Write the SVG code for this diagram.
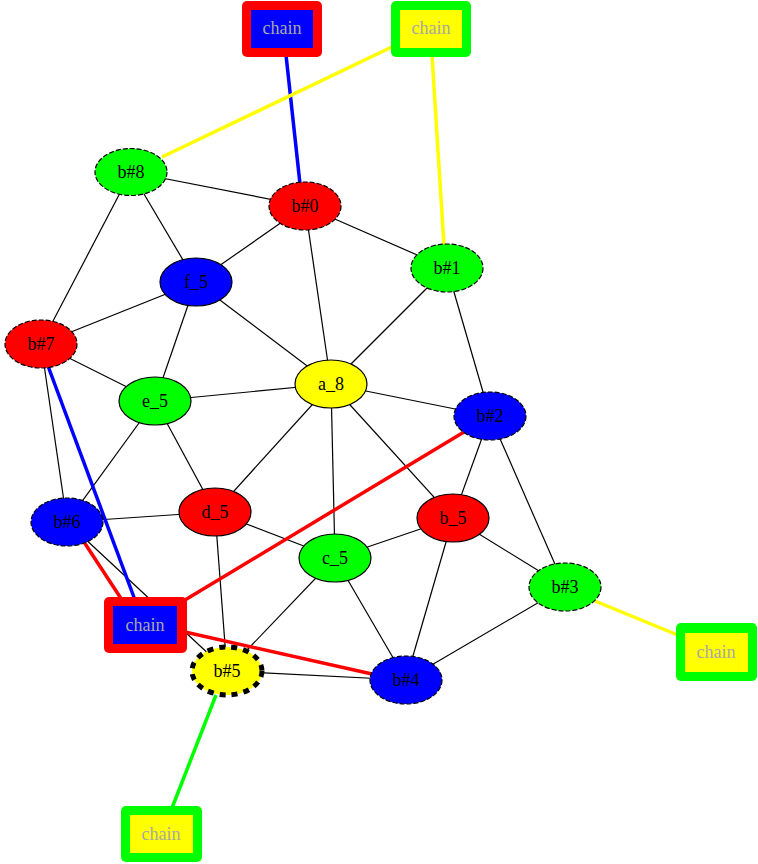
<svg xmlns="http://www.w3.org/2000/svg" width="758" height="864" viewBox="0 0 758 864">
<style>
.e{stroke:#000;stroke-width:1.2;fill:none}
.t{stroke-width:3.5;fill:none}
.n{stroke:#000;stroke-width:1.2}
.d{stroke-dasharray:5,2}
text{font-family:"Liberation Serif","Times New Roman",serif;font-size:18px;text-anchor:middle}
.c{fill:#a8a8a8}
</style>
<rect width="758" height="864" fill="#fff"/>
<g id="edges">
<line class="e" x1="131" y1="172" x2="305" y2="206"/>
<line class="e" x1="131" y1="172" x2="196" y2="282"/>
<line class="e" x1="131" y1="172" x2="41" y2="344"/>
<line class="e" x1="305" y1="206" x2="196" y2="282"/>
<line class="e" x1="305" y1="206" x2="447" y2="268"/>
<line class="e" x1="305" y1="206" x2="331" y2="384"/>
<line class="e" x1="447" y1="268" x2="331" y2="384"/>
<line class="e" x1="447" y1="268" x2="490" y2="416"/>
<line class="e" x1="196" y1="282" x2="41" y2="344"/>
<line class="e" x1="196" y1="282" x2="155" y2="401"/>
<line class="e" x1="196" y1="282" x2="331" y2="384"/>
<line class="e" x1="41" y1="344" x2="155" y2="401"/>
<line class="e" x1="41" y1="344" x2="67" y2="522"/>
<line class="e" x1="155" y1="401" x2="331" y2="384"/>
<line class="e" x1="155" y1="401" x2="215" y2="512"/>
<line class="e" x1="155" y1="401" x2="67" y2="522"/>
<line class="e" x1="331" y1="384" x2="490" y2="416"/>
<line class="e" x1="331" y1="384" x2="215" y2="512"/>
<line class="e" x1="331" y1="384" x2="335" y2="558"/>
<line class="e" x1="331" y1="384" x2="453" y2="518"/>
<line class="e" x1="490" y1="416" x2="453" y2="518"/>
<line class="e" x1="490" y1="416" x2="565" y2="587"/>
<line class="e" x1="67" y1="522" x2="215" y2="512"/>
<line class="e" x1="67" y1="522" x2="227" y2="671"/>
<line class="e" x1="215" y1="512" x2="335" y2="558"/>
<line class="e" x1="215" y1="512" x2="227" y2="671"/>
<line class="e" x1="335" y1="558" x2="453" y2="518"/>
<line class="e" x1="335" y1="558" x2="227" y2="671"/>
<line class="e" x1="335" y1="558" x2="406" y2="680"/>
<line class="e" x1="453" y1="518" x2="565" y2="587"/>
<line class="e" x1="453" y1="518" x2="406" y2="680"/>
<line class="e" x1="565" y1="587" x2="406" y2="680"/>
<line class="e" x1="406" y1="680" x2="227" y2="671"/>
<line class="t" stroke="#0000ff" x1="286" y1="55" x2="300" y2="184"/>
<line class="t" stroke="#ffff00" x1="396" y1="45" x2="162" y2="157"/>
<line class="t" stroke="#ffff00" x1="432" y1="55" x2="444" y2="246"/>
<line class="t" stroke="#0000ff" x1="48" y1="366" x2="135" y2="600"/>
<line class="t" stroke="#ff0000" x1="84" y1="542" x2="122" y2="600"/>
<line class="t" stroke="#ff0000" x1="464" y1="432" x2="180" y2="603"/>
<line class="t" stroke="#ff0000" x1="185" y1="632" x2="372" y2="674"/>
<line class="t" stroke="#00ff00" x1="216" y1="695" x2="172" y2="808"/>
<line class="t" stroke="#ffff00" x1="595" y1="601" x2="680" y2="636"/>
</g>
<g id="b8"><ellipse class="n d" cx="131" cy="172" rx="36" ry="23.5" fill="#00ff00"/><text x="131" y="178">b#8</text></g>
<g id="b0"><ellipse class="n d" cx="305" cy="206" rx="36" ry="24" fill="#ff0000"/><text x="305" y="212">b#0</text></g>
<g id="b1"><ellipse class="n d" cx="447" cy="268" rx="36" ry="24" fill="#00ff00"/><text x="447" y="274">b#1</text></g>
<g id="f5"><ellipse class="n" cx="196" cy="282" rx="36" ry="24" fill="#0000ff"/><text x="196" y="288">f_5</text></g>
<g id="b7"><ellipse class="n d" cx="41" cy="344" rx="36" ry="24" fill="#ff0000"/><text x="41" y="350">b#7</text></g>
<g id="a8"><ellipse class="n" cx="331" cy="384" rx="36" ry="24" fill="#ffff00"/><text x="331" y="390">a_8</text></g>
<g id="b2"><ellipse class="n d" cx="490" cy="416" rx="36" ry="24" fill="#0000ff"/><text x="490" y="422">b#2</text></g>
<g id="e5"><ellipse class="n" cx="155" cy="401" rx="36" ry="24" fill="#00ff00"/><text x="155" y="407">e_5</text></g>
<g id="b6"><ellipse class="n d" cx="67" cy="522" rx="36" ry="24" fill="#0000ff"/><text x="67" y="528">b#6</text></g>
<g id="d5"><ellipse class="n" cx="215" cy="512" rx="36" ry="24" fill="#ff0000"/><text x="215" y="518">d_5</text></g>
<g id="b5n"><ellipse class="n" cx="453" cy="518" rx="36" ry="24" fill="#ff0000"/><text x="453" y="524">b_5</text></g>
<g id="c5"><ellipse class="n" cx="335" cy="558" rx="36" ry="24" fill="#00ff00"/><text x="335" y="564">c_5</text></g>
<g id="b3"><ellipse class="n d" cx="565" cy="587" rx="36" ry="24" fill="#00ff00"/><text x="565" y="593">b#3</text></g>
<g id="b4"><ellipse class="n d" cx="406" cy="680" rx="36" ry="24" fill="#0000ff"/><text x="406" y="686">b#4</text></g>
<g id="b5"><ellipse cx="227" cy="671" rx="35" ry="24" fill="#ffff00" stroke="#000" stroke-width="5" stroke-dasharray="6,6"/><text x="227" y="677">b#5</text></g>
<g id="chain1"><rect x="242" y="1" width="80" height="56" rx="5" fill="#ff0000"/><rect x="251" y="10" width="62" height="38" fill="#0000ff"/><text class="c" x="282" y="34">chain</text></g>
<g id="chain2"><rect x="391" y="1" width="80" height="56" rx="5" fill="#00ff00"/><rect x="400" y="10" width="62" height="38" fill="#ffff00"/><text class="c" x="431" y="34">chain</text></g>
<g id="chain3"><rect x="104" y="597" width="83" height="56" rx="5" fill="#ff0000"/><rect x="113" y="606" width="64" height="38" fill="#0000ff"/><text class="c" x="145" y="631">chain</text></g>
<g id="chain4"><rect x="676" y="623" width="81" height="58" rx="5" fill="#00ff00"/><rect x="685" y="633" width="63" height="39" fill="#ffff00"/><text class="c" x="716" y="658">chain</text></g>
<g id="chain5"><rect x="121" y="806" width="81" height="56" rx="5" fill="#00ff00"/><rect x="130" y="815" width="63" height="38" fill="#ffff00"/><text class="c" x="161" y="840">chain</text></g>
</svg>
